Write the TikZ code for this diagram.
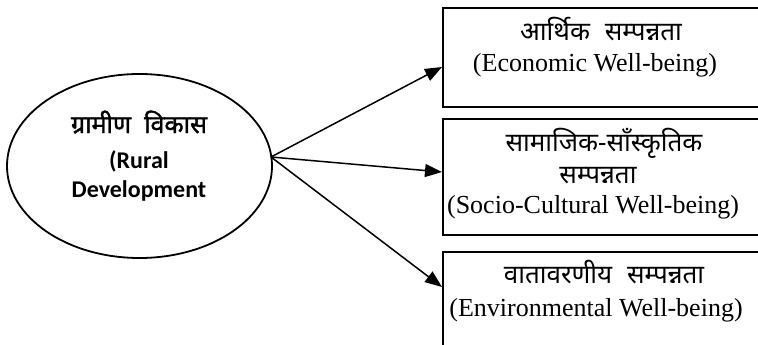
\documentclass[tikz,border=0pt]{standalone}
\usepackage{fontspec}
\setmainfont{Liberation Serif}
\newfontfamily\devfont[Script=Devanagari,WordSpace=2.2]{Noto Sans}
\newfontfamily\devbold[Script=Devanagari,FakeBold=1.6,WordSpace=2]{Noto Sans}
\newfontfamily\calfont{Carlito}
\usetikzlibrary{arrows.meta,shapes.geometric}
\tikzset{
  box/.style={draw, line width=1.8pt, rectangle, inner sep=0pt, anchor=north west},
  conn/.style={line width=1.5pt, -{Triangle[length=17pt,width=13pt]}},
  txt/.style={inner sep=0pt, anchor=base, text height=18pt, text depth=5pt, font=\fontsize{26}{30}\selectfont},
  dtxt/.style={inner sep=0pt, anchor=base, text height=17pt, text depth=4pt, font=\fontsize{26}{30}\selectfont\devfont},
  etxt/.style={inner sep=0pt, anchor=base, text height=16pt, text depth=5pt, font=\fontsize{24}{28}\selectfont\calfont\bfseries},
}
\begin{document}
\begin{tikzpicture}[x=1pt,y=-1pt]
\useasboundingbox (0,0) rectangle (758,345);
\node[draw, ellipse, line width=1.8pt, minimum width=265pt, minimum height=184pt, inner sep=0pt] (root) at (139.5,166) {};
\node[inner sep=0pt, anchor=base, text height=17pt, text depth=4pt, font=\fontsize{25}{29}\selectfont\devbold] (r1) at (139,133) {ग्रामीण विकास};
\node[etxt] (r2) at (139,168) {(Rural};
\node[etxt] (r3) at (139,197) {Development};
\coordinate (s) at (271,157);
\node[box, minimum width=320pt, minimum height=99pt] (b1) at (442,7) {};
\node[box, minimum width=320pt, minimum height=116pt] (b2) at (442,118) {};
\node[box, minimum width=320pt, minimum height=110pt] (b3) at (442,251) {};
\node[dtxt] (t1a) at (601,41) {आर्थिक सम्पन्नता};
\node[txt] (t1b) at (595,71) {(Economic Well-being)};
\node[dtxt] (t2a) at (604,151) {सामाजिक-साँस्कृतिक};
\node[dtxt] (t2b) at (598,183) {सम्पन्नता};
\node[txt] (t2c) at (593,213) {(Socio-Cultural Well-being)};
\node[dtxt] (t3a) at (604,283) {वातावरणीय सम्पन्नता};
\node[txt] (t3b) at (596,316) {(Environmental Well-being)};
\draw[conn] (s) -- (b1.west |- 0,67);
\draw[conn] (s) -- (b2.west |- 0,172);
\draw[conn] (s) -- (b3.west |- 0,287);
\end{tikzpicture}
\end{document}
